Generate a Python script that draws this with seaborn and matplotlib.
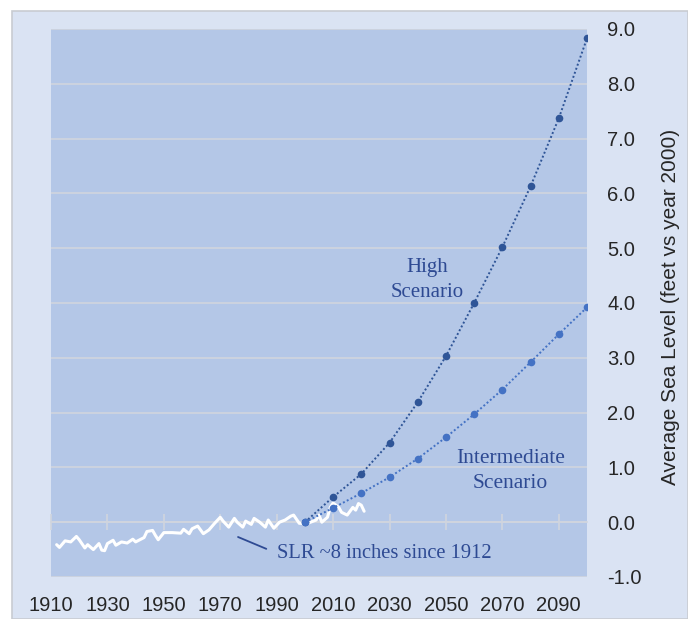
import numpy as np
import pandas as pd
import seaborn as sns
import matplotlib.pyplot as plt
from matplotlib.patches import Rectangle

hist_years = [1912, 1913, 1915, 1917, 1919, 1920, 1922, 1923, 1925, 1927, 1928, 1929,
              1930, 1932, 1933, 1935, 1937, 1939, 1940, 1943, 1944, 1946, 1947, 1948,
              1950, 1953, 1956, 1957, 1959, 1960, 1962, 1964, 1966, 1968, 1970, 1971,
              1973, 1975, 1976, 1978, 1979, 1981, 1982, 1984, 1986, 1987, 1989, 1991,
              1993, 1995, 1996, 1998, 2001, 2004, 2005, 2006, 2008, 2009, 2010, 2012,
              2013, 2015, 2016, 2017, 2018, 2019, 2020, 2021]
hist_values = [-0.41, -0.46, -0.34, -0.36, -0.26, -0.32, -0.47, -0.41, -0.50, -0.39, -0.51, -0.52,
               -0.39, -0.33, -0.42, -0.36, -0.38, -0.31, -0.36, -0.28, -0.17, -0.15, -0.24, -0.32,
               -0.19, -0.19, -0.20, -0.13, -0.21, -0.12, -0.07, -0.21, -0.14, -0.02, 0.09, 0.02,
               -0.09, 0.07, 0.00, -0.09, 0.02, -0.04, 0.07, 0.00, -0.09, 0.04, -0.11, 0.00,
               0.04, 0.11, 0.13, -0.02, -0.02, 0.04, 0.13, 0.00, 0.09, 0.27, 0.35, 0.27,
               0.18, 0.13, 0.20, 0.27, 0.22, 0.34, 0.31, 0.20]

# projections
proj_years = [2000, 2010, 2020, 2030, 2040, 2050, 2060, 2070, 2080, 2090, 2100]
high = [0.0, 0.46, 0.88, 1.45, 2.19, 3.03, 4.00, 5.02, 6.13, 7.37, 8.83]
intermediate = [0.0, 0.26, 0.53, 0.82, 1.16, 1.55, 1.97, 2.42, 2.92, 3.43, 3.92]

xticks = list(range(1910, 2100, 20))
yticks = list(range(-1, 10))

hist_df = pd.DataFrame({"year": hist_years, "slr": hist_values})
proj_df = pd.DataFrame({"year": proj_years, "high": high, "intermediate": intermediate})

sns.set_style("white")
plt.rcParams["font.family"] = ["Liberation Sans", "DejaVu Sans"]

panel_bg = "#dae3f3"
plot_bg = "#b4c7e7"
grid_col = "#d0d5de"
dark = "#2f5597"
mid = "#4472c4"
txt_col = "#2e4a93"

fig = plt.figure(figsize=(6.88, 6.19), dpi=100)
fig.patch.set_facecolor("white")
fig.patches.append(Rectangle((12 / 688, 0), 1 - 12 / 688, 1 - 11 / 619,
                             transform=fig.transFigure, facecolor=panel_bg,
                             edgecolor="#c8ccd2", linewidth=1.2, zorder=-10))

ax = fig.add_axes([51 / 688, 1 - 577 / 619, 536 / 688, 548 / 619])
ax.set_facecolor(plot_bg)

for y in yticks:
    ax.axhline(y, color=grid_col, linewidth=1.2, zorder=1)

sns.lineplot(data=hist_df, x="year", y="slr", color="white", linewidth=2.2, ax=ax, zorder=3)
sns.lineplot(data=proj_df, x="year", y="high", color=dark, linewidth=1.4, linestyle=(0, (1, 1.2)),
             marker="o", markersize=5.5, markeredgewidth=0, ax=ax, zorder=4)
sns.lineplot(data=proj_df, x="year", y="intermediate", color=mid, linewidth=1.4, linestyle=(0, (1, 1.2)),
             marker="o", markersize=5.5, markeredgewidth=0, ax=ax, zorder=4)

ax.set_xlim(1910, 2100)
ax.set_ylim(-1, 9)
ax.set_xticks(xticks)
ax.set_yticks(yticks)
ax.set_yticklabels([f"{v:.1f}" for v in yticks])
ax.yaxis.tick_right()
ax.tick_params(axis="x", length=0, pad=14, labelsize=14.5)
ax.tick_params(axis="y", length=0, pad=14.5, labelsize=14.5, labelright=True, labelleft=False)
for s in ax.spines.values():
    s.set_visible(False)

# axis line at zero with tick marks crossing it
sec = ax.secondary_xaxis(0.1)
sec.set_xticks(xticks)
sec.tick_params(direction="inout", length=11, width=1.2, color=grid_col, labelbottom=False)
sec.spines["bottom"].set_color(grid_col)
sec.spines["bottom"].set_linewidth(1.2)

ax.set_xlabel("")
ax.yaxis.set_label_position("right")
ax.set_ylabel("Average Sea Level (feet vs year 2000)", fontsize=15, rotation=90)
ax.yaxis.set_label_coords((661 - 51) / 536, 0.493)

serif = ["Liberation Serif", "DejaVu Serif"]
ax.text(2043.5, 4.42, "High\nScenario", ha="center", va="center", fontsize=15,
        color=txt_col, family=serif, linespacing=1.45)
ax.text(2072.8, 0.94, "Intermediate\nScenario", ha="center", va="center", fontsize=15.5,
        color=txt_col, family=serif, linespacing=1.45)
ax.annotate("SLR ~8 inches since 1912", xy=(1976.3, -0.27), xytext=(1990.2, -0.57),
            ha="left", va="center", fontsize=14.8, color=txt_col, family=serif,
            arrowprops=dict(arrowstyle="-", color=txt_col, linewidth=1.3,
                            shrinkA=6, shrinkB=0, relpos=(0, 0.5)))

fig.savefig("out.png", dpi=100)
